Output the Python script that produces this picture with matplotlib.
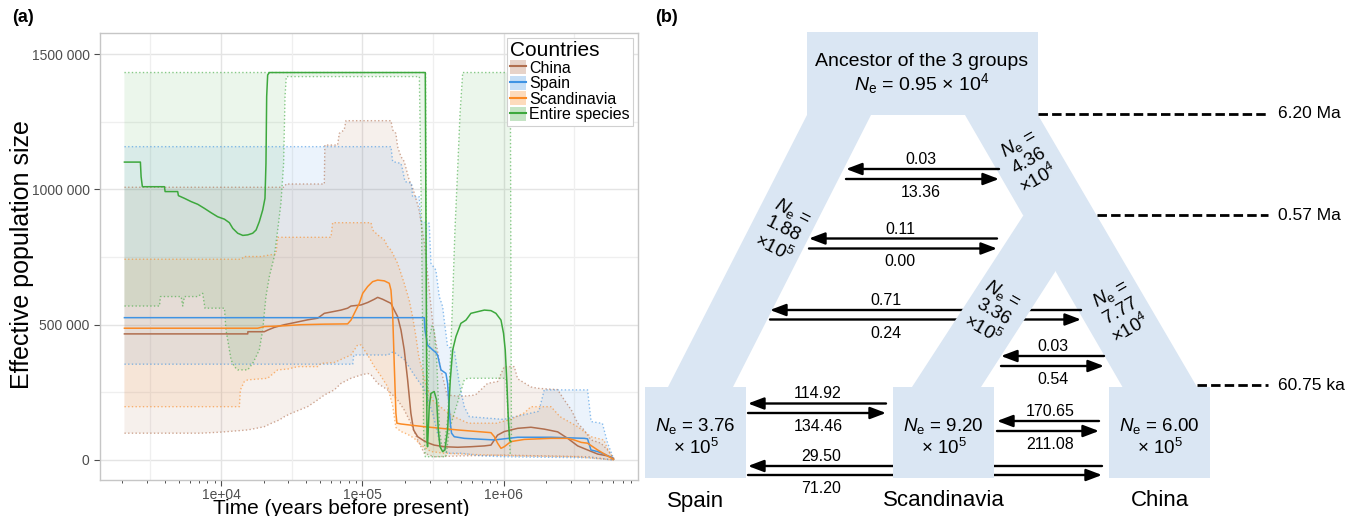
import numpy as np
import matplotlib
matplotlib.use("Agg")
import matplotlib.pyplot as plt
from matplotlib.patches import Patch, Polygon, Rectangle
from matplotlib.lines import Line2D
from matplotlib.ticker import FixedLocator, NullFormatter

plt.rcParams['font.family'] = ['Liberation Sans', 'DejaVu Sans']
plt.rcParams['mathtext.fontset'] = 'custom'
plt.rcParams['mathtext.rm'] = 'Liberation Sans'
plt.rcParams['mathtext.it'] = 'Liberation Sans:italic'
plt.rcParams['mathtext.bf'] = 'Liberation Sans:bold'

##### panel (a) data: log10(years before present), Ne in thousands #####

names = ['China', 'Spain', 'Scandinavia', 'Entire species']
colors = ['#b06e4e', '#3f93e3', '#fb8a24', '#3da83d']

china_med_t = [3.316, 4.189, 4.19, 4.306, 4.330, 4.377, 4.448, 4.495, 4.613, 4.684, 4.731, 4.849, 4.896, 4.920,
               4.991, 5.038, 5.085, 5.109, 5.144, 5.179, 5.203, 5.226, 5.250, 5.274, 5.297, 5.321, 5.344, 5.363,
               5.392, 5.427, 5.462, 5.509, 5.580, 5.675, 5.769, 5.864, 5.911, 5.935, 5.958, 6.005, 6.100, 6.194,
               6.288, 6.383, 6.454, 6.525, 6.595, 6.666, 6.737, 6.779]
china_med_ne = [466, 466, 474, 474, 480, 490, 500, 505, 518, 524, 542, 554, 561, 569, 573, 582, 594, 601, 594, 585,
                579, 554, 530, 480, 407, 296, 173, 111, 86, 74, 64, 55, 49, 47, 49, 52, 55, 74, 92, 105, 117, 121,
                114, 104, 80, 52, 37, 22, 15, 6]
china_hi_t = [3.316, 4.448, 4.46, 4.731, 4.735, 4.825, 4.837, 4.872, 4.884, 5.203, 5.215, 5.238, 5.250, 5.274, 5.297,
              5.332, 5.360, 5.400, 5.440, 5.470, 5.500, 5.550, 5.600, 5.700, 5.800, 5.887, 5.958, 6.005, 6.076, 6.100,
              6.194, 6.241, 6.383, 6.430, 6.480, 6.525, 6.570, 6.620, 6.690, 6.737, 6.779]
china_hi_ne = [1008, 1008, 1020, 1020, 1164, 1164, 1207, 1220, 1254, 1254, 1220, 1207, 1158, 1121, 1103, 1035, 1000,
               930, 800, 650, 500, 350, 240, 235, 240, 283, 290, 345, 345, 300, 270, 265, 260, 222, 185, 136, 111,
               74, 62, 37, 6]
china_lo_t = [3.316, 3.858, 4.000, 4.189, 4.259, 4.306, 4.354, 4.413, 4.448, 4.495, 4.613, 4.684, 4.731, 4.802, 4.849,
              4.920, 4.991, 5.038, 5.062, 5.109, 5.179, 5.250, 5.297, 5.344, 5.392, 5.439, 5.509, 5.700, 6.000, 6.300,
              6.600, 6.779]
china_lo_ne = [99, 99, 103, 111, 118, 123, 135, 148, 160, 172, 197, 222, 240, 259, 283, 302, 314, 320, 314, 283, 259,
               222, 185, 136, 74, 25, 12, 15, 18, 15, 12, 0]

spain_med_t = [3.316, 5.439, 5.444, 5.462, 5.486, 5.498, 5.521, 5.533, 5.557, 5.592, 5.604, 5.616, 5.623, 5.632,
               5.651, 5.722, 5.935, 6.100, 6.336, 6.572, 6.595, 6.619, 6.666, 6.713, 6.760, 6.779]
spain_med_ne = [526, 526, 480, 425, 413, 407, 397, 388, 333, 320, 283, 185, 136, 99, 86, 80, 74, 84, 84, 80, 78, 37,
                31, 22, 10, 2]
spain_hi_t = [3.316, 5.203, 5.215, 5.274, 5.286, 5.302, 5.349, 5.356, 5.403, 5.415, 5.474, 5.486, 5.521, 5.545, 5.569,
              5.580, 5.604, 5.651, 5.687, 5.722, 5.758, 6.000, 6.250, 6.288, 6.595, 6.620, 6.700, 6.737, 6.779]
spain_hi_ne = [1158, 1158, 1103, 1096, 1072, 1029, 1023, 973, 973, 881, 875, 727, 702, 604, 567, 517, 419, 407, 283,
               197, 160, 150, 180, 259, 259, 142, 135, 62, 5]
spain_lo_t = [3.316, 4.932, 4.940, 5.180, 5.220, 5.300, 5.360, 5.400, 5.440, 5.500, 5.550, 5.600, 5.700, 5.850, 6.000,
              6.300, 6.600, 6.779]
spain_lo_ne = [354, 354, 388, 388, 400, 370, 320, 290, 260, 170, 60, 25, 25, 15, 12, 10, 8, 0]

scan_med_t = [3.316, 4.259, 4.306, 4.448, 4.566, 4.731, 4.896, 4.920, 4.955, 4.979, 5.003, 5.038, 5.073, 5.109, 5.156,
              5.191, 5.203, 5.215, 5.226, 5.238, 5.245, 5.274, 5.439, 5.557, 5.675, 5.769, 5.911, 5.935, 5.958, 5.982,
              6.005, 6.052, 6.147, 6.336, 6.454, 6.500, 6.550, 6.595, 6.666, 6.737, 6.779]
scan_med_ne = [487, 487, 493, 496, 500, 502, 503, 517, 554, 579, 616, 641, 659, 665, 662, 653, 628, 542, 357, 173,
               136, 133, 123, 117, 111, 107, 101, 86, 62, 43, 49, 68, 76, 80, 80, 74, 65, 62, 37, 15, 2]
scan_hi_t = [3.316, 4.142, 4.165, 4.283, 4.389, 4.401, 4.778, 4.790, 5.062, 5.073, 5.109, 5.132, 5.156, 5.179, 5.203,
             5.250, 5.297, 5.332, 5.356, 5.380, 5.400, 5.450, 5.500, 5.580, 5.650, 5.750, 5.950, 6.050, 6.150, 6.194,
             6.336, 6.400, 6.525, 6.620, 6.710, 6.740, 6.779]
scan_hi_ne = [742, 742, 752, 752, 762, 823, 823, 877, 877, 850, 832, 823, 813, 789, 776, 727, 653, 591, 530, 456, 382,
              280, 220, 185, 160, 136, 136, 150, 175, 197, 197, 160, 123, 86, 74, 37, 5]
scan_lo_t = [3.316, 4.130, 4.137, 4.165, 4.189, 4.330, 4.401, 4.472, 4.543, 4.684, 4.708, 4.800, 4.920, 4.967, 4.991,
             5.038, 5.085, 5.132, 5.179, 5.215, 5.238, 5.274, 5.321, 5.368, 5.415, 5.486, 5.580, 5.800, 6.100, 6.500,
             6.779]
scan_lo_ne = [197, 197, 259, 290, 296, 302, 333, 336, 345, 345, 357, 360, 388, 425, 425, 388, 345, 310, 271, 200, 120,
              105, 95, 80, 55, 31, 25, 20, 15, 12, 0]

green_med_t = [3.316, 3.429, 3.434, 3.443, 3.599, 3.604, 3.693, 3.698, 3.741, 3.788, 3.835, 3.882, 3.929, 3.976, 4.024,
               4.059, 4.083, 4.118, 4.154, 4.189, 4.224, 4.248, 4.271, 4.295, 4.311, 4.318, 4.323, 4.330, 4.342, 5.446,
               5.451, 5.458, 5.462, 5.474, 5.486, 5.509, 5.526, 5.538, 5.550, 5.569, 5.585, 5.604, 5.623, 5.640, 5.663,
               5.698, 5.734, 5.769, 5.816, 5.864, 5.911, 5.946, 5.982, 6.000, 6.012, 6.024, 6.033, 6.043, 6.052]
green_med_ne = [1101, 1101, 1047, 1010, 1010, 992, 992, 977, 967, 955, 945, 930, 914, 899, 890, 877, 856, 838, 830, 832,
                838, 850, 881, 924, 967, 1096, 1343, 1423, 1432, 1432, 850, 74, 49, 197, 246, 253, 222, 111, 49, 31,
                37, 111, 296, 407, 456, 505, 517, 542, 548, 554, 552, 542, 517, 468, 407, 283, 160, 74, 68]
green_hi_t = [3.316, 5.448, 5.455, 5.462, 5.477, 5.493, 5.509, 5.528, 5.547, 5.564, 5.580, 5.604, 5.623, 5.640, 5.656,
              5.675, 5.692, 5.711, 6.048, 6.056]
green_hi_ne = [1432, 1432, 600, 200, 456, 495, 480, 357, 111, 45, 50, 150, 357, 603, 850, 1072, 1281, 1432, 1432, 60]
green_lo_t = [3.316, 3.564, 3.571, 3.717, 3.729, 3.741, 3.835, 3.870, 3.886, 4.024, 4.035, 4.047, 4.071, 4.094, 4.118,
              4.189, 4.224, 4.248, 4.271, 4.295, 4.318, 4.342, 4.377, 4.401, 4.424, 4.443, 4.453, 4.462, 5.404, 5.420,
              5.434, 5.446, 5.592, 5.616, 5.651, 5.687, 5.722, 5.746, 6.017, 6.033, 6.047, 6.052]
green_lo_ne = [569, 569, 604, 604, 569, 604, 604, 616, 561, 561, 480, 444, 370, 345, 333, 333, 357, 382, 407, 480, 604,
               678, 752, 850, 949, 1096, 1343, 1417, 1417, 850, 111, 12, 12, 111, 172, 234, 296, 302, 302, 160, 25, 20]

medians = [(china_med_t, china_med_ne), (spain_med_t, spain_med_ne), (scan_med_t, scan_med_ne), (green_med_t, green_med_ne)]
uppers = [(china_hi_t, china_hi_ne), (spain_hi_t, spain_hi_ne), (scan_hi_t, scan_hi_ne), (green_hi_t, green_hi_ne)]
lowers = [(china_lo_t, china_lo_ne), (spain_lo_t, spain_lo_ne), (scan_lo_t, scan_lo_ne), (green_lo_t, green_lo_ne)]

y_ticks = [0, 500000, 1000000, 1500000]
y_ticklabels = ['0', '500 000', '1000 000', '1500 000']
x_ticks = [1e4, 1e5, 1e6]
x_ticklabels = ['1e+04', '1e+05', '1e+06']

##### panel (b) data #####
ancestor_ne = ('0.95', 4)
tip_names = ['Spain', 'Scandinavia', 'China']
tip_ne = ['3.76', '9.20', '6.00']          # x 10^5
branch_ne = [('1.88', 5), ('4.36', 4), ('3.36', 5), ('7.77', 4)]
split_times = ['6.20 Ma', '0.57 Ma', '60.75 ka']
mig_top = ['0.03', '0.11', '0.71', '0.03', '114.92', '170.65', '29.50']
mig_bottom = ['13.36', '0.00', '0.24', '0.54', '134.46', '211.08', '71.20']

###################

W, H = 1368, 516
fig = plt.figure(figsize=(W / 100, H / 100), dpi=100)

ax = fig.add_axes([100 / W, 36 / H, 538 / W, 446.7 / H])
ax.set_xscale('log')
ax.set_xlim(10 ** 3.143, 10 ** 6.952)
ax.set_ylim(-74000, 1577000)

# grid (ggplot-like)
for yv in [250000, 750000, 1250000]:
    ax.axhline(yv, color='#efefef', lw=0.9, zorder=0)
for yv in y_ticks:
    ax.axhline(yv, color='#e4e4e4', lw=1.0, zorder=0)
for xv in [10 ** 3.5, 10 ** 4.5, 10 ** 5.5, 10 ** 6.5]:
    ax.axvline(xv, color='#efefef', lw=0.9, zorder=0)
for xv in x_ticks:
    ax.axvline(xv, color='#e4e4e4', lw=1.0, zorder=0)

for (ht, hn), (lt, ln), c in zip(uppers, lowers, colors):
    xs = np.concatenate([10 ** np.array(ht), 10 ** np.array(lt)[::-1]])
    ys = np.concatenate([np.array(hn), np.array(ln)[::-1]]) * 1000
    ax.fill(xs, ys, color=c, alpha=0.1, lw=0, zorder=1)
    ax.plot(10 ** np.array(ht), np.array(hn) * 1000, ls=':', color=c, lw=1.0, alpha=0.6, zorder=2)
    ax.plot(10 ** np.array(lt), np.array(ln) * 1000, ls=':', color=c, lw=1.0, alpha=0.6, zorder=2)

for (mt, mn), c in zip(medians, colors):
    ax.plot(10 ** np.array(mt), np.array(mn) * 1000, color=c, lw=1.1, zorder=3)

ax.yaxis.set_major_locator(FixedLocator(y_ticks))
ax.set_yticklabels(y_ticklabels)
ax.xaxis.set_major_locator(FixedLocator(x_ticks))
ax.set_xticklabels(x_ticklabels)
minor_x = [m * 10 ** k for k in range(3, 7) for m in range(2, 10) if m * 10 ** k not in x_ticks]
ax.xaxis.set_minor_locator(FixedLocator(minor_x))
ax.xaxis.set_minor_formatter(NullFormatter())
ax.tick_params(axis='both', which='major', labelsize=10, labelcolor='#4d4d4d', color='#4d4d4d', length=4, width=0.8)
ax.tick_params(axis='x', which='major', pad=1.5)
ax.tick_params(axis='x', which='minor', color='#4d4d4d', length=2.5, width=0.7)
ax.tick_params(axis='y', which='minor', length=0)
for s in ax.spines.values():
    s.set_color('#c6c6c6')
    s.set_linewidth(1.0)

handles = [(Patch(facecolor=c, alpha=0.3, edgecolor='none'), Line2D([], [], color=c, lw=1.5)) for c in colors]
leg = ax.legend(handles, names, title='Countries', loc='upper right', bbox_to_anchor=(0.99, 0.99),
                fontsize=11.5, title_fontsize=15, frameon=True, fancybox=False, edgecolor='#d0d0d0',
                framealpha=1, borderpad=0.2, labelspacing=0.0, handlelength=1.0, handleheight=1.0,
                handletextpad=0.15, borderaxespad=0)
leg._legend_box.align = 'left'
leg.get_frame().set_linewidth(0.8)

fig.text(22 / W, 1 - 255 / H, 'Effective population size', rotation=90, ha='center', va='center', fontsize=18)
fig.text(341 / W, 2 / H, 'Time (years before present)', ha='center', va='baseline', fontsize=15)
fig.text(12 / W, 1 - 18 / H, '(a)', ha='left', va='center', fontsize=13, fontweight='bold')
fig.text(655 / W, 1 - 18 / H, '(b)', ha='left', va='center', fontsize=13, fontweight='bold')

##### panel (b): demographic model #####
blue = '#dae6f3'
axb = fig.add_axes([640 / W, 0, 728 / W, 1])
axb.set_xlim(640, 1368)
axb.set_ylim(516, 0)
axb.axis('off')

axb.add_patch(Rectangle((807, 32), 231, 83, facecolor=blue, edgecolor='none', zorder=1))
axb.add_patch(Polygon([(807, 115), (871, 115), (733, 387), (668, 387)], facecolor=blue, edgecolor='none', zorder=1))
axb.add_patch(Polygon([(965, 115), (1038, 115), (1197, 387), (1122.5, 387)], facecolor=blue, edgecolor='none', zorder=1))
axb.add_patch(Polygon([(1023, 216), (1070, 216), (1055, 272), (981, 387), (912, 387)], facecolor=blue,
                      edgecolor='none', zorder=4))
box_x = [645, 893, 1109]
for bx in box_x:
    axb.add_patch(Rectangle((bx, 387), 101, 91, facecolor=blue, edgecolor='none', zorder=4))

axb.text(922, 62, 'Ancestor of the 3 groups', ha='center', va='center', fontsize=14, zorder=6)
axb.text(922, 84, r'$N_{\mathrm{e}}$ = %s × 10$^{%d}$' % ancestor_ne, ha='center', va='center', fontsize=14, zorder=6)

for bx, nm, ne in zip(box_x, tip_names, tip_ne):
    axb.text(bx + 50.5, 437, r'$N_{\mathrm{e}}$ = %s' % ne + '\n× 10$^5$', ha='center', va='center',
             fontsize=13.5, linespacing=1.15, zorder=6)
    axb.text(bx + 50.5, 501, nm, ha='center', va='center', fontsize=16, zorder=6)

# rotated Ne labels along the branches
branch_pos = [(783, 230, -27), (1029, 161, 30), (993, 312, -30), (1121, 311, 30)]
for (val, ex), (bx, by, rot) in zip(branch_ne, branch_pos):
    axb.text(bx, by, r'$N_{\mathrm{e}}$ =' + '\n%s\n×10$^{%d}$' % (val, ex), ha='center', va='center',
             rotation=rot, rotation_mode='anchor', multialignment='center', fontsize=13.5,
             linespacing=1.12, zorder=6)

# split times
dash_x0 = [1038, 1097, 1197]
dash_y = [114, 215, 385]
for x0, yv, lab in zip(dash_x0, dash_y, split_times):
    axb.plot([x0, 1268], [yv, yv], color='black', lw=2.0, ls=(0, (3.4, 1.5)), zorder=2)
    axb.text(1278, yv, lab, ha='left', va='center', fontsize=12.5)

# migration arrows: (left tip, right tip, y of left arrow, y of right arrow, label x)
arrow_pos = [(846, 999, 169, 179, 921), (809, 997, 238.5, 248.5, 900), (770, 1081, 310, 319.5, 886),
             (1001, 1104, 356, 366, 1053), (748, 886, 403.5, 413, 818), (997, 1099, 421, 431, 1050),
             (748, 1102, 466, 475, 821)]
ap = dict(arrowstyle='-|>,head_length=0.95,head_width=0.36', lw=1.7, color='black', shrinkA=0, shrinkB=0)
for (xl, xr, yt, yb, lx), lt, lb in zip(arrow_pos, mig_top, mig_bottom):
    axb.annotate('', xy=(xl, yt), xytext=(xr, yt), arrowprops=ap, zorder=3)
    axb.annotate('', xy=(xr, yb), xytext=(xl, yb), arrowprops=ap, zorder=3)
    axb.text(lx, yt - 9.5, lt, ha='center', va='center', fontsize=11.5, zorder=6)
    axb.text(lx, yb + 13.5, lb, ha='center', va='center', fontsize=11.5, zorder=6)

fig.savefig('out.png', dpi=100)
